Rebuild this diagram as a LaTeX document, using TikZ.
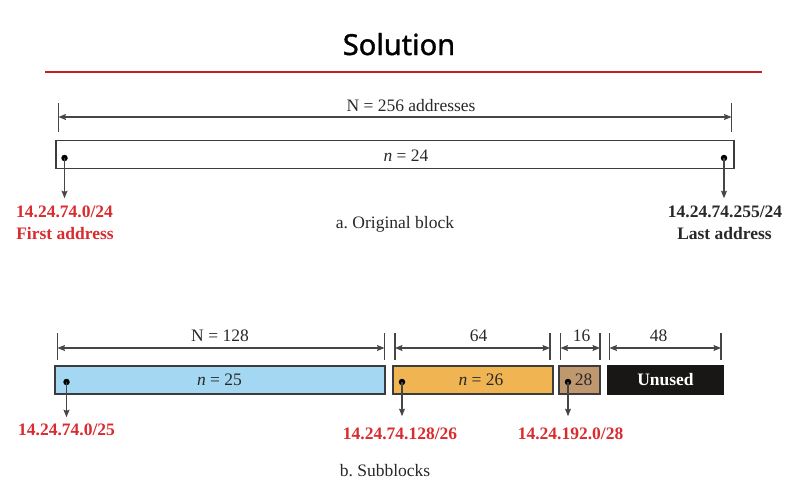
\documentclass[tikz,border=0pt]{standalone}
\usepackage{fontspec}
\setmainfont{Liberation Serif}
\newfontfamily\titlefont[FakeBold=1.3]{Noto Sans}
\usetikzlibrary{arrows.meta}
\definecolor{redlbl}{RGB}{216,44,48}
\definecolor{redrule}{RGB}{196,32,32}
\definecolor{ink}{RGB}{40,40,40}
\definecolor{linegray}{RGB}{70,70,70}
\definecolor{boxline}{RGB}{60,60,60}
\definecolor{bluefill}{RGB}{164,216,242}
\definecolor{orangefill}{RGB}{240,180,82}
\definecolor{brownfill}{RGB}{192,152,112}
\definecolor{blackfill}{RGB}{25,22,22}
\tikzset{
  txt/.style={font=\fontsize{17.5}{20}\selectfont, text=ink, inner sep=0pt, anchor=base},
  lblred/.style={font=\fontsize{17.5}{20}\selectfont\bfseries, text=redlbl, inner sep=0pt, anchor=base},
  lblblack/.style={font=\fontsize{17.5}{20}\selectfont\bfseries, text=ink, inner sep=0pt, anchor=base},
  blockbox/.style={draw=boxline, line width=1.3pt, inner sep=0pt, minimum height=28pt,
    font=\fontsize{17.5}{20}\selectfont, text=ink},
  dotn/.style={circle, fill=black, inner sep=0pt, minimum size=6.5pt},
  tick/.style={draw=linegray, line width=1.2pt},
  tip/.tip={Stealth[length=7.5pt,width=6pt,inset=1.2pt]},
  dimarrow/.style={draw=linegray, line width=1.1pt, tip-tip},
  downarrow/.style={draw=linegray, line width=1.1pt, -tip, shorten >=7pt},
}
\begin{document}
\frenchspacing
\begin{tikzpicture}[x=1pt,y=-1pt]
\useasboundingbox (0,0) rectangle (801,490);

% title
\node[font=\titlefont\fontsize{29}{32}\selectfont, text=black, inner sep=0pt, anchor=base] (title) at (399,55) {Solution};
\coordinate (rl) at (45,72);
\coordinate (rr) at (762,72);
\draw[redrule, line width=1.1pt] (rl) -- (rr);

% ---------- a. original block ----------
\coordinate (at1) at (58.5,103); \coordinate (ab1) at (58.5,132);
\coordinate (at2) at (731.5,103); \coordinate (ab2) at (731.5,132);
\coordinate (aa1) at (58.5,117); \coordinate (aa2) at (731.5,117);
\draw[tick] (at1) -- (ab1);
\draw[tick] (at2) -- (ab2);
\draw[dimarrow] (aa1) -- (aa2);
\node[txt] (Nall) at (411,111) {N = 256 addresses};

\node[blockbox, minimum width=678pt] (orig) at (395,154.5) {};
\node[txt] (n24) at (406,161) {\textit{n} = 24};

\node[dotn] (d1) at (64.5,158) {};
\node[dotn] (d2) at (724,158) {};
\node[lblred] (l1) at (64.5,217) {14.24.74.0/24};
\node[lblred] (l1b) at (65,239.5) {First address};
\node[lblblack] (l2) at (725,217) {14.24.74.255/24};
\node[lblblack] (l2b) at (724.5,239.5) {Last address};
\draw[downarrow] (d1.center) -- (d1.center |- l1.north);
\draw[downarrow] (d2.center) -- (d2.center |- l2.north);
\node[txt] (capa) at (395,228) {a. Original block};

% ---------- b. subblocks ----------
% dimension lines
\coordinate (bt1) at (57.5,333); \coordinate (bb1) at (57.5,360);
\coordinate (bt2) at (384.5,333); \coordinate (bb2) at (384.5,360);
\draw[tick] (bt1) -- (bb1);
\draw[tick] (bt2) -- (bb2);
\draw[dimarrow] (bt1 |- 0,348) -- (bt2 |- 0,348);
\node[txt] (N128) at (220,341) {N = 128};

\coordinate (ct1) at (395,333); \coordinate (cb1) at (395,360);
\coordinate (ct2) at (550,333); \coordinate (cb2) at (550,360);
\draw[tick] (ct1) -- (cb1);
\draw[tick] (ct2) -- (cb2);
\draw[dimarrow] (ct1 |- 0,348) -- (ct2 |- 0,348);
\node[txt] (N64) at (478.5,341) {64};

\coordinate (et1) at (560.5,333); \coordinate (eb1) at (560.5,360);
\coordinate (et2) at (600,333); \coordinate (eb2) at (600,360);
\draw[tick] (et1) -- (eb1);
\draw[tick] (et2) -- (eb2);
\draw[dimarrow] (et1 |- 0,348) -- (et2 |- 0,348);
\node[txt] (N16) at (581.5,341) {16};

\coordinate (ft1) at (609.5,333); \coordinate (fb1) at (609.5,360);
\coordinate (ft2) at (721,333); \coordinate (fb2) at (721,360);
\draw[tick] (ft1) -- (fb1);
\draw[tick] (ft2) -- (fb2);
\draw[dimarrow] (ft1 |- 0,348) -- (ft2 |- 0,348);
\node[txt] (N48) at (658.5,341) {48};

% blocks
\node[blockbox, fill=bluefill, minimum width=330pt] (blue) at (220,380) {};
\node[txt] (n25) at (219.5,385.5) {\textit{n} = 25};
\node[blockbox, fill=orangefill, minimum width=160pt] (orange) at (473,380) {};
\node[txt] (n26) at (481,385.5) {\textit{n} = 26};
\node[blockbox, fill=brownfill, minimum width=41pt] (brown) at (579.5,380) {};
\node[txt] (n28) at (583.5,385.5) {28};
\node[blockbox, fill=blackfill, draw=blackfill, minimum width=115pt] (unused) at (665.5,380) {};
\node[txt, font=\fontsize{17.5}{20}\selectfont\bfseries, text=white] (unusedtxt) at (665.5,385.5) {Unused};

\node[dotn] (e1) at (66.5,382) {};
\node[dotn] (e2) at (402,382) {};
\node[dotn] (e3) at (568,382) {};
\node[lblred] (m1) at (66.5,435) {14.24.74.0/25};
\node[lblred] (m2) at (400,439) {14.24.74.128/26};
\node[lblred] (m3) at (570.5,439) {14.24.192.0/28};
\draw[downarrow, shorten >=6pt] (e1.center) -- (e1.center |- m1.north);
\draw[downarrow, shorten >=11pt] (e2.center) -- (e2.center |- m2.north);
\draw[downarrow, shorten >=11pt] (e3.center) -- (e3.center |- m3.north);

\node[txt] (capb) at (385,476) {b. Subblocks};
\end{tikzpicture}
\end{document}
